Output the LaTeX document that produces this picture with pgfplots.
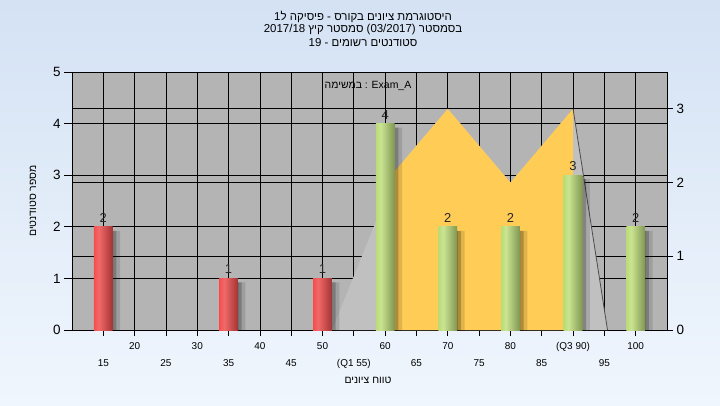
\documentclass[border=0pt]{standalone}
\usepackage{fontspec}
\setmainfont{Liberation Sans}
\newfontfamily\hebfont[Script=Hebrew]{Liberation Sans}
\TeXXeTstate=1
\usepackage{pgfplots}
\usepackage{pgfplotstable}
\pgfplotsset{compat=1.18}

\definecolor{bgtop}{RGB}{212,226,244}
\definecolor{bgbot}{RGB}{240,246,253}
\definecolor{plotbg}{RGB}{180,180,180}
\definecolor{areagray}{RGB}{192,192,192}
\definecolor{areayellow}{RGB}{255,204,85}
\definecolor{redL}{RGB}{255,25,25}
\definecolor{redM}{RGB}{242,105,105}
\definecolor{redR}{RGB}{110,15,15}
\definecolor{grnL}{RGB}{155,205,65}
\definecolor{grnM}{RGB}{202,228,145}
\definecolor{grnR}{RGB}{78,98,38}

\pgfdeclarehorizontalshading{redcyl}{100bp}{color(0bp)=(redL); color(38bp)=(redM); color(100bp)=(redR)}
\pgfdeclarehorizontalshading{grncyl}{100bp}{color(0bp)=(grnL); color(38bp)=(grnM); color(100bp)=(grnR)}

% grade counts (left axis)
\pgfplotstableread{
g n
15 2
35 1
50 1
60 4
70 2
80 2
90 3
100 2
}\counts
% distribution areas (right axis)
\pgfplotstableread{
g v
51.5 0
60 1.78
63 2.3
70 3
80 2
90 3
95.5 0
}\allarea
\pgfplotstableread{
g v
60 0
60 2
70 3
80 2
90 3
90 0
}\iqrarea
\pgfplotstableread{
g v
90 3
95.5 0
}\tailline

\pgfplotsset{
  cyl/.style={ybar, bar width=3, bar shift=0, draw=none},
  redbar/.style={cyl, shading=redcyl},
  grnbar/.style={cyl, shading=grncyl},
}

\begin{document}
\begin{tikzpicture}[x=1bp,y=1bp]
\shade[top color=bgtop,bottom color=bgbot] (0,0) rectangle (720,405);

\begin{axis}[
  at={(72bp,75bp)}, anchor=south west, scale only axis,
  width=595bp, height=258bp,
  xmin=10, xmax=105, ymin=0, ymax=3.5,
  axis background/.style={fill=plotbg},
  axis line style={black, line width=0.8bp},
  xtick pos=bottom, ytick pos=right,
  tick align=outside, major tick length=6bp,
  tick style={black, line width=0.8bp},
  xtick={20,30,...,100},
  xticklabels={20,30,40,50,60,70,80,(Q3 90),100},
  extra x ticks={15,25,...,95},
  extra x tick labels={15,25,35,45,(Q1 55),65,75,85,95},
  extra x tick style={grid=major, xticklabel style={yshift=-17bp}},
  ytick={0,1,2,3},
  extra y ticks={0.7,1.4,2.1,2.8},
  extra y tick labels={},
  extra y tick style={grid=major, major tick length=0pt},
  grid=major, grid style={black, line width=0.8bp},
  xticklabel style={font=\fontsize{10}{12}\selectfont, yshift=-3bp},
  yticklabel style={font=\fontsize{13.5}{15}\selectfont},
  /pgf/number format/assume math mode=true,
]
\addplot[fill=areagray, draw=none] table[x=g,y=v]{\allarea} \closedcycle;
\addplot[fill=areayellow, draw=none] table[x=g,y=v]{\iqrarea} \closedcycle;
\addplot[draw=black!70, line width=0.8bp] table[x=g,y=v]{\tailline};
\end{axis}

\begin{axis}[
  at={(72bp,75bp)}, anchor=south west, scale only axis,
  width=595bp, height=258bp,
  xmin=10, xmax=105, ymin=0, ymax=5,
  axis x line=none, axis y line*=left,
  axis line style={black, line width=0.8bp},
  tick align=outside, major tick length=8bp,
  tick style={black, line width=0.8bp},
  ytick={0,...,5},
  yticklabel style={font=\fontsize{13.5}{15}\selectfont},
  /pgf/number format/assume math mode=true,
]
% soft shadows to the right of the bars
\addplot[ybar, bar width=3.4, bar shift=1.0, fill=black, fill opacity=0.12, draw=none, yshift=-4bp] table[x=g,y=n]{\counts};
\addplot[ybar, bar width=2.8, bar shift=0.7, fill=black, fill opacity=0.22, draw=none, yshift=-4bp] table[x=g,y=n]{\counts};
\addplot[ybar, bar width=2.2, bar shift=0.45, fill=black, fill opacity=0.3, draw=none, yshift=-4bp] table[x=g,y=n]{\counts};
% bars, one plot each so every cylinder gets its own shading
\addplot[redbar] coordinates {(15,2)};
\addplot[redbar] coordinates {(35,1)};
\addplot[redbar] coordinates {(50,1)};
\addplot[grnbar] coordinates {(60,4)};
\addplot[grnbar] coordinates {(70,2)};
\addplot[grnbar] coordinates {(80,2)};
\addplot[grnbar] coordinates {(90,3)};
\addplot[grnbar] coordinates {(100,2)};
% value labels
\addplot[draw=none, mark=none, nodes near coords,
  every node near coord/.append style={font=\fontsize{13}{15}\selectfont, text=black!85, anchor=south, yshift=1bp}]
  table[x=g,y=n]{\counts};
\end{axis}

% titles and labels
\node[font=\fontsize{11.5}{13}\selectfont] at (363,388) {\hebfont 1\kern0pt ל \beginR היסטוגרמת ציונים בקורס - פיסיקה\endR};
\node[font=\fontsize{11.5}{13}\selectfont] at (363,375) {\hebfont 2017/18 \beginR סמסטר קיץ\endR{} (03/2017) \beginR בסמסטר\endR};
\node[font=\fontsize{11.5}{13}\selectfont] at (363,362) {\hebfont 19 - \beginR סטודנטים רשומים\endR};
\node[font=\fontsize{10.5}{12}\selectfont] at (368,319) {{\hebfont\beginR במשימה\endR} : Exam\_A};
\node[font=\fontsize{10.5}{12}\selectfont] at (368,25) {\hebfont\beginR טווח ציונים\endR};
\node[font=\fontsize{10.5}{12}\selectfont, rotate=90] at (33,204) {\hebfont\beginR מספר סטודנטים\endR};

\pgfresetboundingbox
\path (0,0) rectangle (720,405);
\end{tikzpicture}
\end{document}
